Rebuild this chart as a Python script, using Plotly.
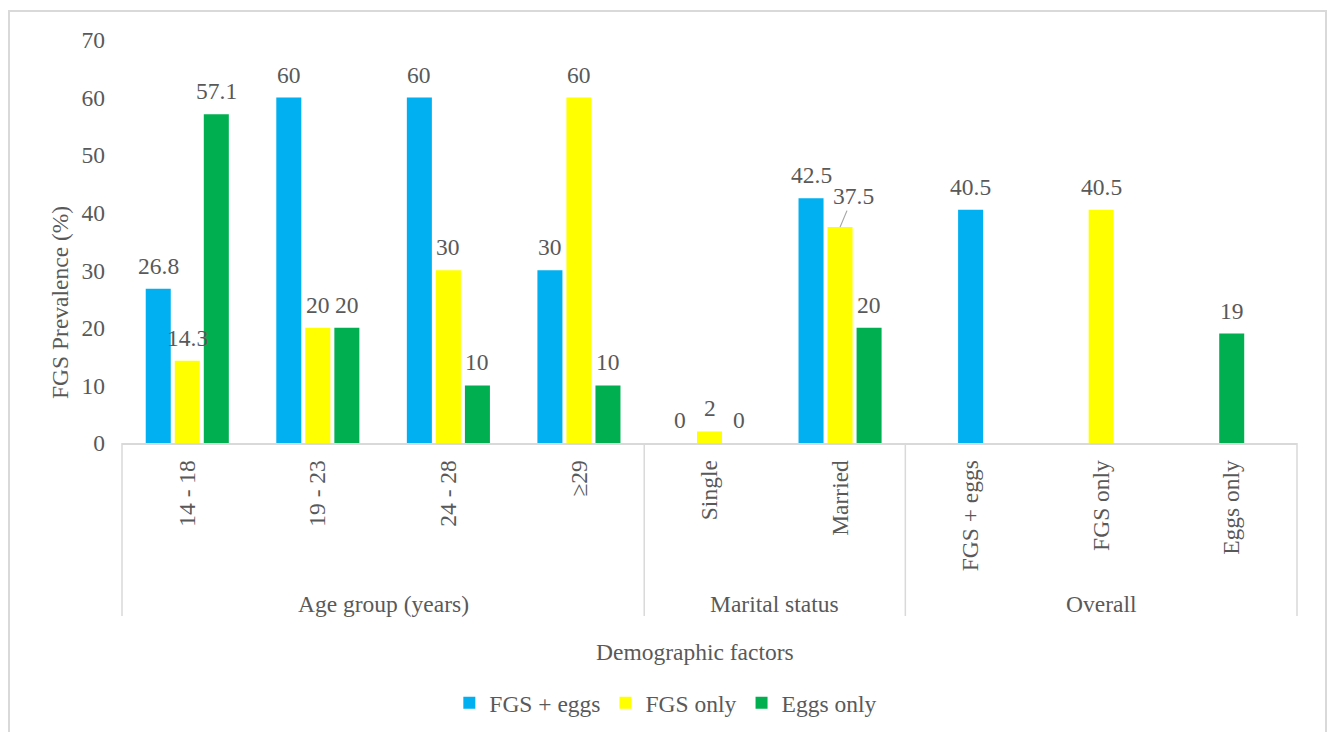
import plotly.graph_objects as go

# ---------------- data ----------------
categories = ["14 - 18", "19 - 23", "24 - 28", "≥29", "Single", "Married",
              "FGS + eggs", "FGS only", "Eggs only"]
demo_categories = categories[:6]
overall_categories = categories[6:]
group_labels = ["Age group (years)", "Marital status", "Overall"]
group_sizes = [4, 2, 3]

series_names = ["FGS + eggs", "FGS only", "Eggs only"]
fgs_eggs = [26.8, 60, 60, 30, 0, 42.5]
fgs_only = [14.3, 20, 30, 60, 2, 37.5]
eggs_only = [57.1, 20, 10, 10, 0, 20]
overall_values = [40.5, 40.5, 19]

y_ticks = [0, 10, 20, 30, 40, 50, 60, 70]

# ---------------- style ----------------
colors = ["#00B0F0", "#FFFF00", "#00B050"]
FONT = "Liberation Serif, Times New Roman, serif"
GREY = "#595959"
LINE = "#D9D9D9"
FS = 23.5
W, H = 1329, 732
ML, MR, MT, MB = 122, 32, 40, 289
BARGAP = 0.333
BARGROUPGAP = 0.138
plot_w = W - ML - MR
plot_h = H - MT - MB


def px_x(px):
    return (px - ML) / plot_w


def px_y(py):
    return (H - MB - py) / plot_h


fig = go.Figure()
series = [fgs_eggs, fgs_only, eggs_only]
for k, (name, vals) in enumerate(zip(series_names, series)):
    fig.add_trace(go.Bar(x=demo_categories, y=vals, name=name,
                         marker=dict(color=colors[k], line=dict(width=0)),
                         legendgroup=name, hoverinfo="x+y"))

slot = (1 - BARGAP) / 3
bar_w = slot * (1 - BARGROUPGAP)
for k, (name, cat, val) in enumerate(zip(series_names, overall_categories, overall_values)):
    fig.add_trace(go.Bar(x=[cat], y=[val], name=name, showlegend=False,
                         legendgroup=name, width=bar_w, offset=-bar_w / 2,
                         marker=dict(color=colors[k], line=dict(width=0)),
                         hoverinfo="x+y"))

annotations = []
label_font = dict(family=FONT, size=FS, color=GREY)
# data labels
for k, vals in enumerate(series):
    for i, v in enumerate(vals):
        xpos = i + (k - 1) * slot
        if k == 1 and i == 5:
            annotations.append(dict(x=xpos, y=v, xref="x", yref="y", text=f"{v:g}",
                                    showarrow=True, arrowhead=0, arrowwidth=1.2,
                                    arrowcolor="#A6A6A6", ax=13, ay=-31, standoff=0,
                                    font=label_font))
        else:
            annotations.append(dict(x=xpos, y=v, xref="x", yref="y", text=f"{v:g}",
                                    showarrow=False, yanchor="middle", yshift=23,
                                    font=label_font))
for j, v in enumerate(overall_values):
    annotations.append(dict(x=6 + j, y=v, xref="x", yref="y", text=f"{v:g}",
                            showarrow=False, yanchor="middle", yshift=23,
                            font=label_font))

# group labels and dividers
shapes = []
start = 0
boundaries = [-0.5]
for lab, n in zip(group_labels, group_sizes):
    centre = start + (n - 1) / 2
    annotations.append(dict(x=centre, y=px_y(604), xref="x", yref="paper", text=lab,
                            showarrow=False, yanchor="middle", font=label_font))
    start += n
    boundaries.append(start - 0.5)
ncat = len(categories)
for b in boundaries:
    xp = (b + 0.5) / ncat
    shapes.append(dict(type="line", xref="paper", yref="paper", x0=xp, x1=xp,
                       y0=0, y1=px_y(616), line=dict(color=LINE, width=1.5)))

# axis titles
annotations.append(dict(x=px_x(60), y=px_y(303), xref="paper", yref="paper",
                        text="FGS Prevalence (%)", textangle=-90, showarrow=False,
                        xanchor="center", yanchor="middle", font=label_font))
annotations.append(dict(x=px_x(695), y=px_y(652), xref="paper", yref="paper",
                        text="Demographic factors", showarrow=False,
                        xanchor="center", yanchor="middle", font=label_font))

# outer border
shapes.append(dict(type="rect", xref="paper", yref="paper",
                   x0=px_x(9), x1=px_x(1326), y0=px_y(760), y1=px_y(11),
                   line=dict(color=LINE, width=2), fillcolor="rgba(0,0,0,0)",
                   layer="below"))

fig.update_layout(
    width=W, height=H,
    margin=dict(l=ML, r=MR, t=MT, b=MB),
    paper_bgcolor="white", plot_bgcolor="white",
    barmode="group", bargap=BARGAP, bargroupgap=BARGROUPGAP,
    font=dict(family=FONT, size=FS, color=GREY),
    showlegend=True,
    legend=dict(orientation="h", xref="container", yref="container",
                x=0.501, y=1 - 703 / H, xanchor="center", yanchor="middle",
                font=dict(family=FONT, size=FS, color=GREY),
                itemwidth=30, tracegroupgap=0),
    annotations=annotations,
    shapes=shapes,
    xaxis=dict(type="category", categoryorder="array", categoryarray=categories,
               range=[-0.5, ncat - 0.5], showline=True, linecolor=LINE, linewidth=1.5,
               showgrid=False, zeroline=False, ticks="", tickangle=-90,
               ticklabelstandoff=6,
               tickfont=dict(family=FONT, size=FS, color=GREY), fixedrange=True),
    yaxis=dict(range=[0, 70], tickvals=y_ticks, showline=False, showgrid=False,
               zeroline=False, ticks="", ticklabelstandoff=16,
               tickfont=dict(family=FONT, size=FS, color=GREY), fixedrange=True),
)

fig.write_html("out.html")
